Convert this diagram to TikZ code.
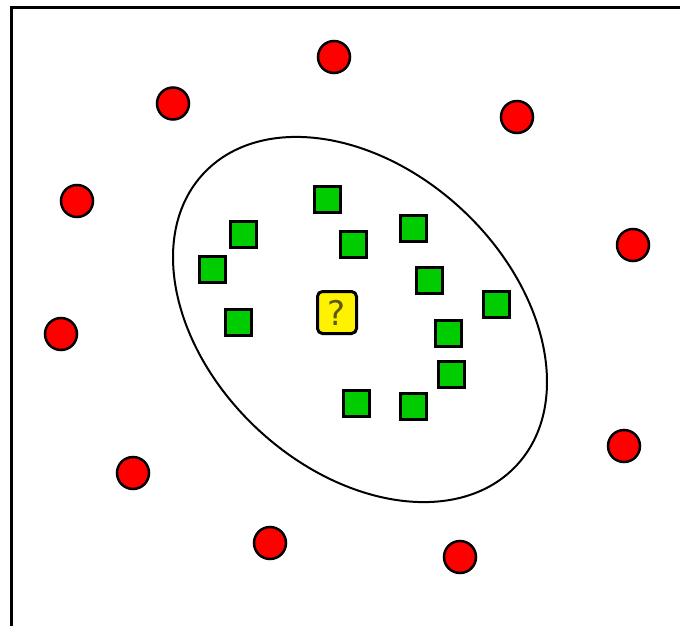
\documentclass[tikz,border=0pt]{standalone}
\usepackage{fontspec}
\setmainfont{DejaVu Sans}
\begin{document}
\begin{tikzpicture}[x=1pt,y=-1pt,
  redpt/.style={circle,draw=black,line width=2.5pt,fill=red,minimum size=32pt,inner sep=0pt},
  greenpt/.style={rectangle,draw=black,line width=3pt,fill={rgb,255:red,0;green,204;blue,0},minimum width=26pt,minimum height=26pt,inner sep=0pt},
  query/.style={rectangle,rounded corners=5pt,draw=black,line width=3pt,fill=yellow,minimum width=39pt,minimum height=42pt,inner sep=0pt,font=\fontsize{34}{34}\selectfont,text={rgb,255:red,90;green,90;blue,0}}]
\useasboundingbox (0,0) rectangle (680,626);
\fill[white] (0,0) rectangle (680,626);
% frame
\coordinate (fb) at (11.5,626);
\coordinate (fc) at (11.5,7.5);
\coordinate (fr) at (680,7.5);
\draw[line width=3.5pt] (fb) -- (fc) -- (fr);
% ellipse
\coordinate (ec) at (360,319.5);
\draw[line width=2pt,rotate around={-43:(ec)}] (ec) ellipse [x radius=214, y radius=150];
% red circles
\node[redpt] (r1) at (334,57) {};
\node[redpt] (r2) at (173,103.5) {};
\node[redpt] (r3) at (517,117) {};
\node[redpt] (r4) at (77,201) {};
\node[redpt] (r5) at (633,245) {};
\node[redpt] (r6) at (61,334) {};
\node[redpt] (r7) at (624,446) {};
\node[redpt] (r8) at (133,473) {};
\node[redpt] (r9) at (270,543) {};
\node[redpt] (r10) at (460,557) {};
% green squares
\node[greenpt] (g1) at (327.5,199.5) {};
\node[greenpt] (g2) at (243,234.5) {};
\node[greenpt] (g3) at (353,244) {};
\node[greenpt] (g4) at (212.5,269.5) {};
\node[greenpt] (g5) at (238,322) {};
\node[greenpt] (g6) at (413.5,228) {};
\node[greenpt] (g7) at (429.5,280.5) {};
\node[greenpt] (g8) at (496.5,304.5) {};
\node[greenpt] (g9) at (448.5,333.5) {};
\node[greenpt] (g10) at (451.5,374.5) {};
\node[greenpt] (g11) at (356,403.5) {};
\node[greenpt] (g12) at (413.5,406.5) {};
% query
\node[query] (q) at (337,312.5) {?};
\end{tikzpicture}
\end{document}
